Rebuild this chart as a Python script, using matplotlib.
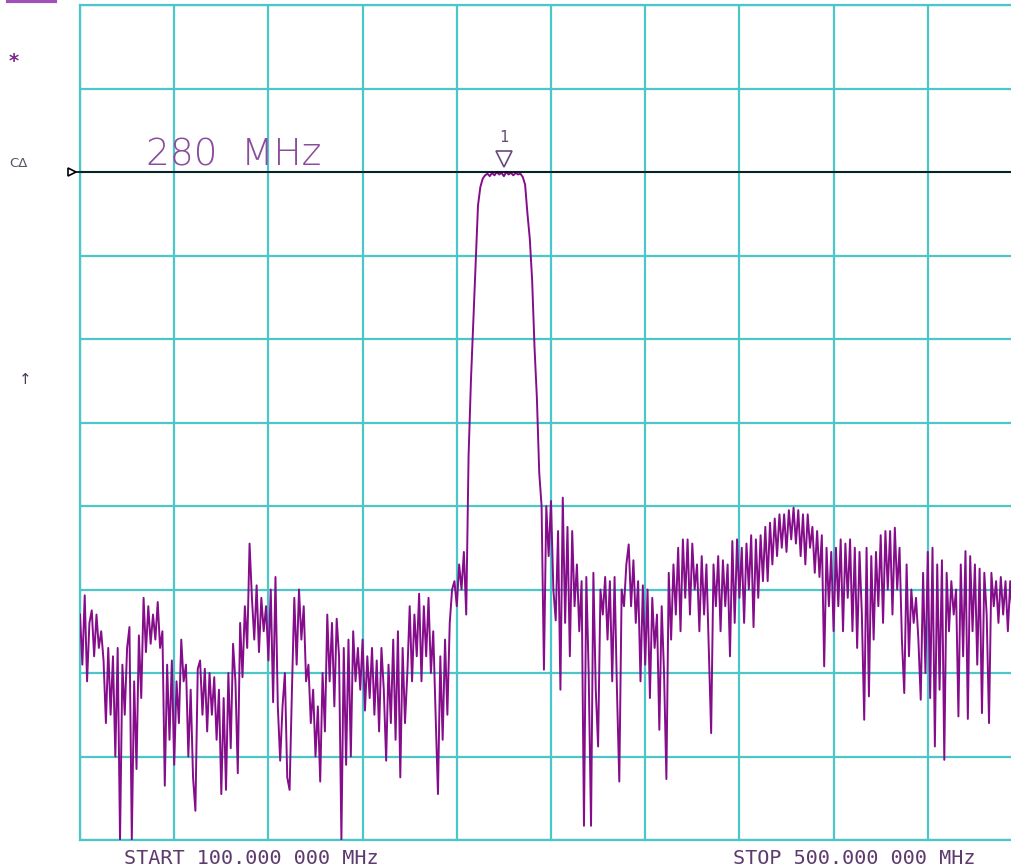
import numpy as np
import matplotlib.pyplot as plt

# Barrido del analizador: 401 puntos entre 100 y 500 MHz
start_mhz = 100
stop_mhz = 500
n_points = 401
ref_db = 0
db_per_div = 10
marker_mhz = 280

# Banda de rechazo inferior (100 - 263 MHz), dB
low_db = [
    -53, -59, -50.7, -61, -54, -52.5, -58, -53, -57, -55,
    -58.5, -66, -57, -65, -58, -70, -57, -80, -59, -65,
    -57, -54.5, -80, -61, -71.5, -55.5, -63, -51, -57.5, -52,
    -56.5, -53, -56, -51.5, -57, -55, -73.5, -59, -68, -58.5,
    -71, -61, -66, -56, -61, -59, -70, -62, -72.5, -76.5,
    -59.5, -58.5, -65, -59.5, -67, -60, -65, -60.5, -68, -62,
    -74.5, -63, -74, -60, -69, -56.5, -61, -72, -54, -60.5,
    -52, -57, -44.5, -51, -56, -49.5, -57.5, -51, -55, -52,
    -58.5, -50, -63.5, -48.5, -64, -70.5, -64, -60, -72.5, -74,
    -62, -51, -59, -50, -56, -52, -61, -59, -66, -62,
    -70, -64, -73, -60, -67, -53, -61, -54, -64, -53.5,
    -58, -80, -57, -71, -56, -70, -55, -61, -57, -62,
    -56, -64.5, -58, -63, -57, -65, -58.5, -67, -57, -62,
    -70.5, -59, -66, -56, -68, -55, -72.5, -57, -66, -60,
    -52, -61, -53, -58, -50.5, -61, -52, -58, -51, -60,
    -55, -65, -74.5, -58, -68, -56, -65, -54, -50, -49,
    -52, -47, -50, -45.5,
]

# Banda de paso (264 - 296 MHz), dB
pass_db = [
    -53, -34, -25, -18, -11, -4, -1.8, -0.8,
    -0.4, -0.2, -0.5, -0.1, -0.4, 0.0, -0.3, -0.1,
    -0.5, 0.0, -0.3, -0.1, -0.4, -0.1, -0.3, -0.2,
    -0.6, -1.5, -5, -8, -13, -21, -27, -36, -40,
]

# Banda de rechazo superior (297 - 500 MHz), dB
high_db = [
    -59.6, -40, -46, -39.4, -50, -53.7, -43, -62, -39, -54,
    -42.5, -58, -43, -52, -47, -55, -49, -78.3, -48.5, -60,
    -78.3, -48, -62, -68.8, -50, -53, -48.5, -56, -49, -61,
    -48.5, -62, -73, -50, -52, -47, -44.6, -52, -46.5, -54,
    -49, -61, -49.5, -59, -50, -63, -51, -57, -53, -66.8,
    -52, -60, -72.7, -48, -56, -47, -53, -45, -55, -44,
    -51, -44, -53, -44.5, -50, -47, -55, -46, -53, -47,
    -57, -67.2, -47, -52, -46, -55, -46.5, -52, -47, -58,
    -44.2, -54, -44, -51, -45, -54, -44.5, -50, -43.5, -54.5,
    -44, -51, -43.5, -49, -42.5, -49, -42, -47, -41.5, -46,
    -41, -45, -41, -45.5, -40.5, -44, -40.2, -44.5, -40.5, -46,
    -41, -47, -41, -45, -42.5, -48, -43, -48.5, -43.5, -59.2,
    -45, -52, -45.5, -55, -45, -52, -44, -55, -44.5, -51,
    -44, -55, -45, -57, -45.5, -53, -65.6, -45, -62.8, -46,
    -56, -45.5, -52, -43.5, -54, -43, -50, -43, -53, -42.6,
    -50, -45, -56, -62.4, -47, -58, -50, -54, -51, -56,
    -63.2, -48, -60, -45.5, -63, -45, -68.8, -47, -62, -46.5,
    -70.4, -48, -55, -49, -53, -50, -65.2, -47, -58, -45.4,
    -65.5, -46, -55, -47, -59, -47.5, -64.8, -48, -53, -66,
    -48, -52, -49, -54, -48.5, -53, -49, -55, -49, -53,
    -48, -55, -49, -52,
]

freq = np.linspace(start_mhz, stop_mhz, n_points)
trace = np.array(low_db + pass_db + high_db)

W, H = 1012, 866
grid_color = '#4cc6c8'
trace_color = '#850c8a'
text_color = '#8a4c9c'
label_color = '#5e3a6e'

fig = plt.figure(figsize=(W / 100, H / 100), dpi=100)
fig.patch.set_facecolor('white')

# la pantalla del analizador se sale un poco por la derecha
ax = fig.add_axes([80 / W, 1 - 840 / H, 942 / W, 835 / H])
ax.set_xlim(start_mhz, stop_mhz)
ax.set_ylim(ref_db - 8 * db_per_div, ref_db + 2 * db_per_div)
ax.set_xticks(np.linspace(start_mhz, stop_mhz, 11))
ax.set_yticks(np.arange(ref_db - 8 * db_per_div, ref_db + 2 * db_per_div + 1, db_per_div))
ax.grid(True, color=grid_color, lw=1.6)
ax.tick_params(length=0, labelbottom=False, labelleft=False)
for s in ax.spines.values():
    s.set_color(grid_color)
    s.set_linewidth(1.6)

# traza medida
ax.plot(freq, trace, color=trace_color, lw=1.4, zorder=3)

# linea de referencia y su indicador
ax.plot([start_mhz - 2.5, stop_mhz], [ref_db, ref_db], color='black', lw=1.2,
        zorder=4, clip_on=False)
ax.plot(start_mhz - 3.2, ref_db, marker='>', ms=6, mfc='white', mec='black',
        mew=1.2, clip_on=False, zorder=5)

# marcador 1
ax.plot(marker_mhz, ref_db + 1.5, marker='v', ms=12, mfc='none',
        mec='#6a4a7a', mew=1.2, zorder=5)
ax.text(marker_mhz, ref_db + 3.2, '1', color='#6a4a7a', fontsize=11,
        ha='center', va='bottom', family='DejaVu Sans Mono')

# textos de la pantalla
def fx(x):
    return x / W

def fy(y):
    return 1 - y / H

fig.text(fx(146), fy(166), '280  MHz', color=text_color, fontsize=27,
         fontweight='light', ha='left', va='baseline')
fig.text(fx(124), fy(864), 'START 100.000 000 MHz', color=label_color,
         fontsize=14.5, family='DejaVu Sans Mono', ha='left', va='baseline')
fig.text(fx(733), fy(864), 'STOP 500.000 000 MHz', color=label_color,
         fontsize=14.5, family='DejaVu Sans Mono', ha='left', va='baseline')
fig.text(fx(9), fy(167), 'C\u0394', color='#5a5068', fontsize=9.5,
         ha='left', va='baseline')
fig.text(fx(14), fy(62), '*', color='#7a2a88', fontsize=14,
         ha='center', va='center', fontweight='bold')
fig.text(fx(25), fy(380), '\u2191', color='#4a3a58', fontsize=11,
         ha='center', va='center')
fig.add_artist(plt.Line2D([fx(8), fx(55)], [fy(1), fy(1)], color='#a050b8', lw=3))

fig.savefig('out.png', dpi=100)
